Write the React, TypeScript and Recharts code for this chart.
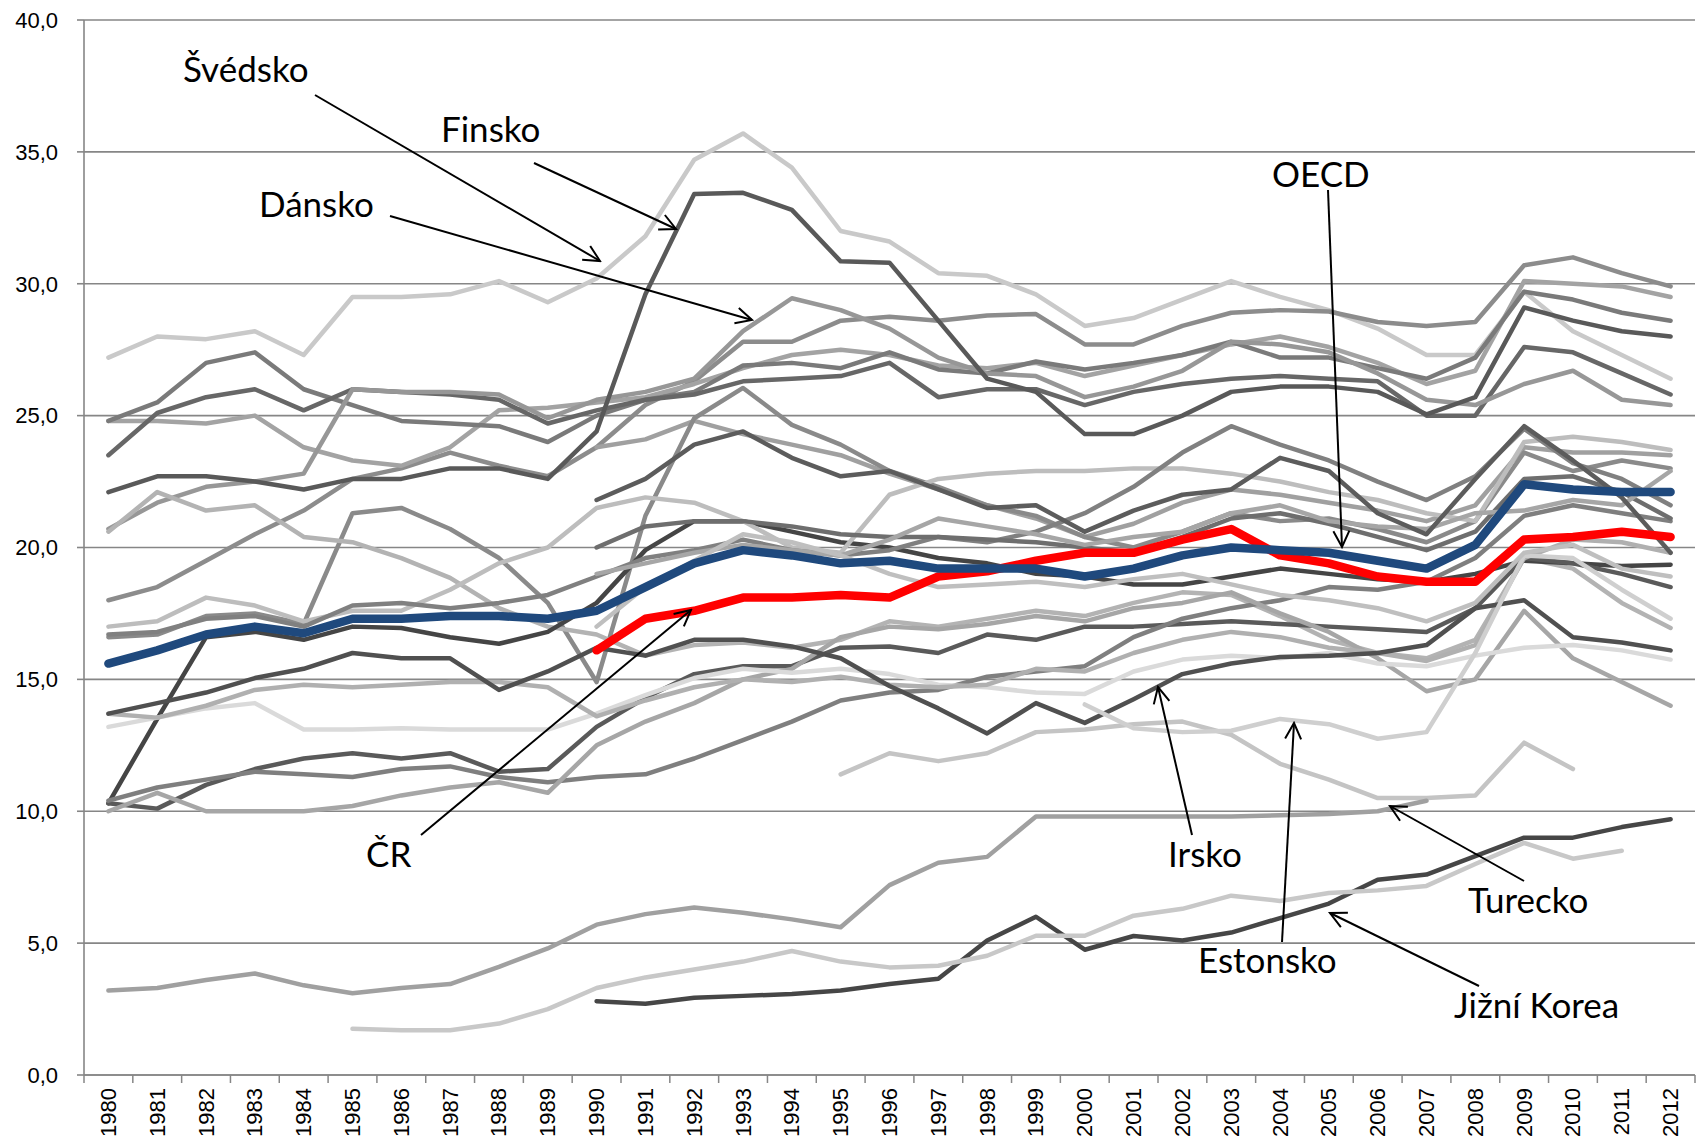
import { LineChart, Line, XAxis, YAxis, CartesianGrid } from "recharts";

const N = null;

const years = [
  1980, 1981, 1982, 1983, 1984, 1985, 1986, 1987, 1988, 1989, 1990, 1991, 1992, 1993, 1994, 1995, 1996,
  1997, 1998, 1999, 2000, 2001, 2002, 2003, 2004, 2005, 2006, 2007, 2008, 2009, 2010, 2011, 2012,
];
const yTicks = [0, 5, 10, 15, 20, 25, 30, 35, 40];

// highlighted series
const oecd = [15.6, 16.1, 16.7, 17.0, 16.75, 17.3, 17.3, 17.4, 17.4, 17.3, 17.6, 18.5, 19.4, 19.9, 19.7, 19.4, 19.5, 19.2, 19.2, 19.2, 18.9, 19.2, 19.7, 20.0, 19.9, 19.8, 19.5, 19.2, 20.1, 22.4, 22.2, 22.1, 22.1];
const cr = [N, N, N, N, N, N, N, N, N, N, 16.1, 17.3, 17.6, 18.1, 18.1, 18.2, 18.1, 18.9, 19.1, 19.5, 19.8, 19.8, 20.3, 20.7, 19.7, 19.4, 18.9, 18.7, 18.7, 20.3, 20.4, 20.6, 20.4];

// the other countries (grey)
const svedsko = [27.2, 28.0, 27.9, 28.2, 27.3, 29.5, 29.5, 29.6, 30.1, 29.3, 30.2, 31.8, 34.7, 35.7, 34.4, 32.0, 31.6, 30.4, 30.3, 29.6, 28.4, 28.7, 29.4, 30.1, 29.5, 29.0, 28.3, 27.3, 27.3, 29.7, 28.2, 27.3, 26.4];
const finsko = [22.1, 22.7, 22.7, 22.5, 22.2, 22.6, 22.6, 23.0, 23.0, 22.6, 24.4, 29.6, 33.4, 33.45, 32.8, 30.85, 30.8, 28.6, 26.4, 25.9, 24.3, 24.3, 25.0, 25.9, 26.1, 26.1, 25.9, 25.05, 25.7, 29.1, 28.6, 28.2, 28.0];
const dansko = [20.7, 21.7, 22.3, 22.5, 22.8, 26.0, 25.9, 25.9, 25.8, 24.9, 25.6, 25.9, 26.4, 28.2, 29.45, 29.0, 28.3, 27.2, 26.6, 26.5, 25.7, 26.1, 26.7, 27.8, 27.7, 27.4, 26.6, 25.6, 25.4, 26.2, 26.7, 25.6, 25.4];
const norsko = [18.0, 18.5, 19.5, 20.5, 21.4, 22.6, 23.0, 23.6, 23.1, 22.7, 23.8, 25.4, 26.3, 27.8, 27.8, 28.6, 28.75, 28.6, 28.8, 28.85, 27.7, 27.7, 28.4, 28.9, 29.0, 28.95, 28.55, 28.4, 28.55, 30.7, 31.0, 30.4, 29.9];
const francie = [24.8, 24.8, 24.7, 25.0, 23.8, 23.3, 23.1, 23.8, 25.2, 25.3, 25.5, 25.7, 26.2, 26.8, 27.3, 27.5, 27.3, 26.9, 26.8, 27.0, 26.5, 26.9, 27.3, 27.7, 28.0, 27.6, 27.0, 26.2, 26.7, 30.1, 30.0, 29.9, 29.5];
const belgie = [24.8, 25.5, 27.0, 27.4, 26.0, 25.4, 24.8, 24.7, 24.6, 24.0, 25.0, 25.6, 25.9, 26.9, 27.0, 26.8, 27.4, 26.75, 26.6, 27.05, 26.75, 27.0, 27.3, 27.8, 27.2, 27.2, 26.8, 26.4, 27.2, 29.7, 29.4, 28.9, 28.6];
const nizozemsko = [23.5, 25.1, 25.7, 26.0, 25.2, 26.0, 25.9, 25.8, 25.6, 24.7, 25.2, 25.6, 25.8, 26.3, 26.4, 26.5, 27.0, 25.7, 26.0, 26.0, 25.4, 25.9, 26.2, 26.4, 26.5, 26.4, 26.3, 25.0, 25.0, 27.6, 27.4, 26.6, 25.8];
const madarsko = [N, N, N, N, N, N, N, N, N, N, 23.8, 24.1, 24.8, 24.3, 23.9, 23.5, 22.8, 22.2, 21.6, 21.1, 20.4, 20.9, 21.7, 22.2, 22.0, 21.7, 21.4, 21.0, 21.6, 23.8, 23.6, 23.6, 23.5];
const nz = [16.6, 16.7, 17.4, 17.5, 17.1, 21.3, 21.5, 20.7, 19.6, 17.9, 14.9, 21.2, 24.9, 26.05, 24.65, 23.9, 22.9, 22.3, 21.6, 21.2, 20.4, 20.0, 20.6, 21.3, 21.0, 21.1, 20.7, 20.2, 21.0, 23.6, 22.9, 23.3, 23.0];
const nemecko = [20.6, 22.1, 21.4, 21.6, 20.4, 20.2, 19.6, 18.85, 17.7, 17.0, 16.7, 15.9, 16.3, 16.4, 16.2, 16.5, 17.2, 17.0, 17.3, 17.6, 17.4, 17.9, 18.3, 18.2, 17.4, 16.5, 16.0, 15.8, 16.5, 19.6, 19.2, 17.9, 16.95];
const kanada = [10.3, 13.5, 16.6, 16.8, 16.5, 17.0, 16.95, 16.6, 16.35, 16.8, 17.9, 19.9, 21.0, 21.0, 20.6, 20.2, 20.0, 19.6, 19.4, 19.0, 18.9, 18.6, 18.6, 18.9, 19.2, 19.0, 18.8, 18.7, 19.0, 19.5, 19.4, 19.3, 19.35];
const spanelsko = [10.3, 10.1, 11.0, 11.6, 12.0, 12.2, 12.0, 12.2, 11.5, 11.6, 13.2, 14.3, 15.2, 15.5, 15.5, 16.2, 16.25, 16.0, 16.7, 16.5, 17.0, 17.0, 17.1, 17.2, 17.1, 17.0, 16.9, 16.8, 17.7, 19.6, 19.4, 19.0, 18.5];
const portugalsko = [10.4, 10.9, 11.2, 11.5, 11.4, 11.3, 11.6, 11.7, 11.3, 11.1, 11.3, 11.4, 12.0, 12.7, 13.4, 14.2, 14.5, 14.6, 15.1, 15.3, 15.5, 16.6, 17.3, 17.7, 18.0, 18.5, 18.4, 18.7, 19.6, 21.2, 21.6, 21.3, 21.0];
const recko = [10.0, 10.7, 10.0, 10.0, 10.0, 10.2, 10.6, 10.9, 11.1, 10.7, 12.5, 13.4, 14.1, 15.0, 15.4, 16.6, 17.0, 16.9, 17.1, 17.4, 17.2, 17.7, 17.9, 18.3, 17.5, 16.8, 15.8, 14.55, 15.0, 17.6, 15.8, 14.9, 14.0];
const usa = [13.2, 13.55, 13.9, 14.1, 13.1, 13.1, 13.15, 13.1, 13.1, 13.1, 13.7, 14.4, 15.05, 15.4, 15.25, 15.4, 15.2, 14.8, 14.7, 14.5, 14.45, 15.3, 15.75, 15.9, 15.8, 16.0, 15.6, 15.5, 15.9, 16.2, 16.3, 16.1, 15.75];
const svycarsko = [13.7, 13.55, 14.0, 14.6, 14.8, 14.7, 14.8, 14.9, 14.9, 14.7, 13.6, 14.2, 14.7, 15.0, 14.9, 15.1, 14.8, 14.7, 14.8, 15.4, 15.3, 16.0, 16.5, 16.8, 16.6, 16.2, 16.0, 15.7, 16.3, 19.6, 20.3, 20.2, 19.8];
const irsko = [13.7, 14.1, 14.5, 15.05, 15.4, 16.0, 15.8, 15.8, 14.6, 15.3, 16.2, 15.9, 16.5, 16.5, 16.25, 15.8, 14.75, 13.9, 12.95, 14.1, 13.35, 14.25, 15.2, 15.6, 15.85, 15.9, 16.0, 16.3, 17.7, 18.0, 16.6, 16.4, 16.1];
const polsko = [N, N, N, N, N, N, N, N, N, N, N, N, N, N, N, 11.4, 12.2, 11.9, 12.2, 13.0, 13.1, 13.3, 13.4, 12.9, 11.8, 11.2, 10.5, 10.5, 10.6, 12.6, 11.6, N, N];
const estonsko = [N, N, N, N, N, N, N, N, N, N, N, N, N, N, N, N, N, N, N, N, 14.05, 13.15, 13.0, 13.05, 13.5, 13.3, 12.75, 13.0, 16.0, 19.7, 19.6, 18.4, 17.3];
const turecko = [3.2, 3.3, 3.6, 3.85, 3.4, 3.1, 3.3, 3.45, 4.1, 4.8, 5.7, 6.1, 6.35, 6.15, 5.9, 5.6, 7.2, 8.05, 8.27, 9.8, 9.8, 9.8, 9.8, 9.8, 9.85, 9.9, 10.0, 10.4, N, N, N, N, N];
const jizniKorea = [N, N, N, N, N, N, N, N, N, N, 2.8, 2.7, 2.93, 3.0, 3.07, 3.2, 3.45, 3.65, 5.1, 6.0, 4.75, 5.27, 5.1, 5.4, 5.95, 6.5, 7.4, 7.6, 8.3, 9.0, 9.0, 9.4, 9.7];
const mexiko = [N, N, N, N, N, 1.75, 1.7, 1.7, 1.95, 2.5, 3.3, 3.7, 4.0, 4.3, 4.7, 4.3, 4.08, 4.14, 4.52, 5.28, 5.28, 6.04, 6.3, 6.8, 6.6, 6.9, 7.0, 7.17, 8.0, 8.8, 8.2, 8.5, N];
const italie = [17.0, 17.2, 18.1, 17.8, 17.2, 17.6, 17.6, 18.4, 19.4, 20.0, 21.5, 21.9, 21.7, 21.0, 20.0, 19.8, 22.0, 22.6, 22.8, 22.9, 22.9, 23.0, 23.0, 22.8, 22.5, 22.1, 21.8, 21.3, 21.0, 24.0, 24.2, 24.0, 23.7];
const slovinsko = [N, N, N, N, N, N, N, N, N, N, 21.8, 22.6, 23.9, 24.4, 23.4, 22.7, 22.9, 22.2, 21.5, 21.6, 20.6, 21.4, 22.0, 22.2, 23.4, 22.9, 21.3, 20.5, 22.6, 24.6, 23.3, 21.9, 19.8];
const rakousko = [16.7, 16.8, 17.3, 17.4, 17.0, 17.8, 17.9, 17.7, 17.9, 18.2, 18.9, 19.6, 19.9, 20.3, 19.9, 19.7, 19.9, 20.4, 20.2, 20.6, 21.3, 22.3, 23.6, 24.6, 23.9, 23.3, 22.5, 21.8, 22.7, 24.5, 23.2, 22.6, 21.6];
const slovensko = [N, N, N, N, N, N, N, N, N, N, 20.0, 20.8, 21.0, 21.0, 20.8, 20.5, 20.4, 20.4, 20.3, 20.2, 20.0, 19.8, 20.4, 21.1, 21.3, 20.9, 20.4, 19.9, 20.6, 22.6, 22.7, 22.1, 21.1];
const uk = [N, N, N, N, N, N, N, N, N, N, 19.0, 19.4, 19.8, 20.1, 19.9, 19.7, 20.3, 21.1, 20.8, 20.5, 20.1, 20.4, 20.6, 21.3, 21.6, 21.0, 20.8, 20.7, 21.3, 21.4, 21.8, 21.6, 22.9];
const japonsko = [N, N, N, N, N, N, N, N, N, N, 17.0, 18.5, 19.5, 20.5, 20.2, 19.7, 19.0, 18.5, 18.6, 18.7, 18.5, 18.8, 19.0, 18.6, 18.2, 18.0, 17.7, 17.2, 17.9, 19.8, 20.1, 19.2, 18.9];

const greySeries = [
  { key: "svedsko", values: svedsko, color: "#c9c9c9" },
  { key: "norsko", values: norsko, color: "#8c8c8c" },
  { key: "francie", values: francie, color: "#a3a3a3" },
  { key: "belgie", values: belgie, color: "#7a7a7a" },
  { key: "nizozemsko", values: nizozemsko, color: "#676767" },
  { key: "dansko", values: dansko, color: "#979797" },
  { key: "madarsko", values: madarsko, color: "#a0a0a0" },
  { key: "nz", values: nz, color: "#8a8a8a" },
  { key: "nemecko", values: nemecko, color: "#b3b3b3" },
  { key: "kanada", values: kanada, color: "#454545" },
  { key: "spanelsko", values: spanelsko, color: "#5a5a5a" },
  { key: "portugalsko", values: portugalsko, color: "#7f7f7f" },
  { key: "recko", values: recko, color: "#a6a6a6" },
  { key: "usa", values: usa, color: "#dadada" },
  { key: "svycarsko", values: svycarsko, color: "#b0b0b0" },
  { key: "irsko", values: irsko, color: "#505050" },
  { key: "polsko", values: polsko, color: "#c4c4c4" },
  { key: "estonsko", values: estonsko, color: "#cfcfcf" },
  { key: "turecko", values: turecko, color: "#a0a0a0" },
  { key: "jizniKorea", values: jizniKorea, color: "#464646" },
  { key: "mexiko", values: mexiko, color: "#c8c8c8" },
  { key: "italie", values: italie, color: "#bdbdbd" },
  { key: "rakousko", values: rakousko, color: "#808080" },
  { key: "slovensko", values: slovensko, color: "#6e6e6e" },
  { key: "uk", values: uk, color: "#a6a6a6" },
  { key: "japonsko", values: japonsko, color: "#bfbfbf" },
  { key: "slovinsko", values: slovinsko, color: "#5c5c5c" },
  { key: "finsko", values: finsko, color: "#595959" },
];

const chartData = years.map((year, i) => {
  const row: Record<string, number | null> = { year, oecd: oecd[i], cr: cr[i] };
  greySeries.forEach((s) => {
    row[s.key] = s.values[i];
  });
  return row;
});

const W = 1698;
const H = 1148;
const LEFT = 84;
const RIGHT = 3;
const HALF_BAND = (W - LEFT - RIGHT) / years.length / 2;
const AXIS = "#868686";

const YearTick = (props: any) => {
  const { x, y, payload } = props;
  return (
    <g>
      {payload.value === years[0] && (
        <line x1={x - HALF_BAND} x2={x - HALF_BAND} y1={y} y2={y + 8} stroke={AXIS} strokeWidth={1.5} />
      )}
      <line x1={x + HALF_BAND} x2={x + HALF_BAND} y1={y} y2={y + 8} stroke={AXIS} strokeWidth={1.5} />
      <text
        x={x}
        y={y + 13}
        transform={`rotate(-90 ${x} ${y + 13})`}
        textAnchor="end"
        dominantBaseline="central"
        fontSize={22}
        fontFamily="'Liberation Sans', Arial, sans-serif"
        fill="#000"
      >
        {payload.value}
      </text>
    </g>
  );
};

const notes = [
  { text: "Švédsko", x: 183, y: 82, from: [315, 95], to: [600, 261] },
  { text: "Finsko", x: 441, y: 142, from: [534, 163], to: [676, 229] },
  { text: "Dánsko", x: 259, y: 217, from: [390, 216], to: [752, 320] },
  { text: "OECD", x: 1272, y: 187, from: [1328, 190], to: [1342, 547] },
  { text: "ČR", x: 366, y: 867, from: [421, 835], to: [691, 610] },
  { text: "Irsko", x: 1168, y: 867, from: [1192, 835], to: [1158, 687] },
  { text: "Estonsko", x: 1198, y: 973, from: [1282, 942], to: [1294, 723] },
  { text: "Turecko", x: 1468, y: 913, from: [1524, 881], to: [1390, 806] },
  { text: "Jižní Korea", x: 1454, y: 1018, from: [1479, 986], to: [1330, 913] },
];

export default function App() {
  return (
    <div style={{ position: "relative", width: W, height: H, background: "#fff" }}>
      <style>{"body{margin:0;background:#fff}"}</style>
      <LineChart width={W} height={H} data={chartData} margin={{ top: 20, right: RIGHT, left: 0, bottom: 0 }}>
        <CartesianGrid horizontal vertical={false} stroke={AXIS} strokeWidth={1.6} />
        <XAxis
          dataKey="year"
          type="number"
          domain={[years[0] - 0.5, years[years.length - 1] + 0.5]}
          ticks={years}
          interval={0}
          tickLine={false}
          tickSize={0}
          tickMargin={0}
          height={73}
          axisLine={{ stroke: AXIS, strokeWidth: 1.6 }}
          tick={<YearTick />}
        />
        <YAxis
          domain={[0, 40]}
          ticks={yTicks}
          width={LEFT}
          tickSize={7}
          tickMargin={19}
          tickFormatter={(v: number) => v.toFixed(1).replace(".", ",")}
          tick={{ fill: "#000", fontSize: 22, fontFamily: "'Liberation Sans', Arial, sans-serif" }}
          tickLine={{ stroke: AXIS, strokeWidth: 1.6 }}
          axisLine={{ stroke: AXIS, strokeWidth: 1.6 }}
        />
        {greySeries.map((s) => (
          <Line
            key={s.key}
            dataKey={s.key}
            stroke={s.color}
            strokeWidth={4.5}
            strokeLinejoin="round"
            strokeLinecap="round"
            dot={false}
            activeDot={false}
            isAnimationActive={false}
          />
        ))}
        <Line dataKey="cr" stroke="#ff0000" strokeWidth={8.5} strokeLinecap="round" strokeLinejoin="round" dot={false} activeDot={false} isAnimationActive={false} />
        <Line dataKey="oecd" stroke="#1f497d" strokeWidth={8.5} strokeLinecap="round" strokeLinejoin="round" dot={false} activeDot={false} isAnimationActive={false} />
      </LineChart>

      {/* labels with arrows */}
      <svg width={W} height={H} style={{ position: "absolute", left: 0, top: 0, pointerEvents: "none" }}>
        <defs>
          <marker id="head" viewBox="0 0 20 20" refX={18} refY={10} markerWidth={20} markerHeight={20} markerUnits="userSpaceOnUse" orient="auto">
            <path d="M2,2 L18,10 L2,18" fill="none" stroke="#000" strokeWidth={2} />
          </marker>
        </defs>
        {notes.map((n) => (
          <g key={n.text}>
            <line x1={n.from[0]} y1={n.from[1]} x2={n.to[0]} y2={n.to[1]} stroke="#000" strokeWidth={2} markerEnd="url(#head)" />
            <text x={n.x} y={n.y} fontSize={35} fontFamily="Lato, 'Noto Sans', sans-serif" fill="#000">
              {n.text}
            </text>
          </g>
        ))}
      </svg>
    </div>
  );
}
